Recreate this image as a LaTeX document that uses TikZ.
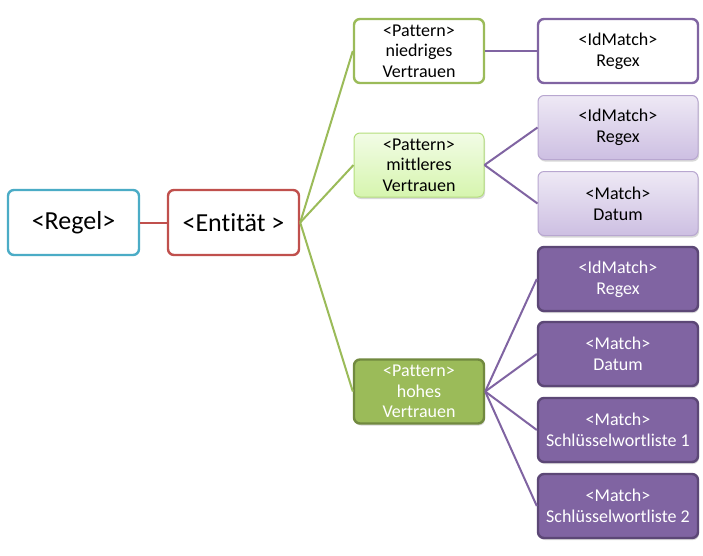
\documentclass[tikz,border=0pt]{standalone}
\usepackage{fontspec}
\setmainfont[Ligatures=NoCommon]{Carlito}
\usetikzlibrary{shadows}
\definecolor{cyanb}{HTML}{4BACC6}
\definecolor{redb}{HTML}{C0504D}
\definecolor{greenb}{HTML}{9BBB59}
\definecolor{greend}{HTML}{71893F}
\definecolor{greenl}{HTML}{B4DE7C}
\definecolor{greentop}{HTML}{F2FCE6}
\definecolor{greenbot}{HTML}{D6F5AE}
\definecolor{purpb}{HTML}{8064A2}
\definecolor{purpd}{HTML}{5C4776}
\definecolor{purpl}{HTML}{B8A7D0}
\definecolor{purptop}{HTML}{EEE9F5}
\definecolor{purpbot}{HTML}{CDBFE2}
\tikzset{
  x=1pt,y=-1pt,
  box/.style={rounded corners=6pt, line width=2.4pt, align=center, inner sep=0pt, font=\fontsize{18}{20.7}\selectfont},
  bigbox/.style={box, minimum width=131pt, minimum height=65pt, font=\fontsize{26}{30}\selectfont},
  patbox/.style={box, minimum width=130pt, minimum height=64pt},
  matbox/.style={box, minimum width=160pt, minimum height=64pt},
  softshadow/.style={drop shadow={shadow xshift=1pt, shadow yshift=-2pt, opacity=0.25, fill=black!60}},
  lightgreen/.style={patbox, draw=greenl, line width=1pt, top color=greentop, bottom color=greenbot, softshadow},
  lightpurp/.style={matbox, draw=purpl, line width=1pt, top color=purptop, bottom color=purpbot, softshadow},
  darkpurp/.style={matbox, draw=purpd, fill=purpb, text=white, softshadow},
  gline/.style={draw=greenb, line width=2pt},
  pline/.style={draw=purpb, line width=2pt},
}
\begin{document}
\begin{tikzpicture}
\useasboundingbox[fill=white] (0,0) rectangle (703,555);
\node[bigbox, draw=cyanb, fill=white] (regel) at (73.5,222.5) {<Regel>};
\node[bigbox, draw=redb, fill=white] (ent) at (233.5,222.5) {<Entität >};
\node[patbox, draw=greenb, fill=white] (pn) at (419,51) {<Pattern>\\niedriges\\Vertrauen};
\node[lightgreen] (pm) at (419,165) {<Pattern>\\mittleres\\Vertrauen};
\node[patbox, draw=greend, fill=greenb, text=white, softshadow] (ph) at (419,391.5) {<Pattern>\\hohes\\Vertrauen};
\node[matbox, draw=purpb, fill=white] (n1) at (618,51) {<IdMatch>\\Regex};
\node[lightpurp] (m1) at (618,127.5) {<IdMatch>\\Regex};
\node[lightpurp] (m2) at (618,203.5) {<Match>\\Datum};
\node[darkpurp] (h1) at (618,279) {<IdMatch>\\Regex};
\node[darkpurp] (h2) at (618,354) {<Match>\\Datum};
\node[darkpurp] (h3) at (618,430) {<Match>\\Schlüsselwortliste 1};
\node[darkpurp] (h4) at (618,506) {<Match>\\Schlüsselwortliste 2};
\draw[draw=redb, line width=2pt] (regel.east) -- (ent.west);
\draw[gline] (ent.east) -- (pn.west);
\draw[gline] (ent.east) -- (pm.west);
\draw[gline] (ent.east) -- (ph.west);
\draw[pline] (pn.east) -- (n1.west);
\draw[pline] (pm.east) -- (m1.west);
\draw[pline] (pm.east) -- (m2.west);
\draw[pline] (ph.east) -- (h1.west);
\draw[pline] (ph.east) -- (h2.west);
\draw[pline] (ph.east) -- (h3.west);
\draw[pline] (ph.east) -- (h4.west);
\end{tikzpicture}
\end{document}
